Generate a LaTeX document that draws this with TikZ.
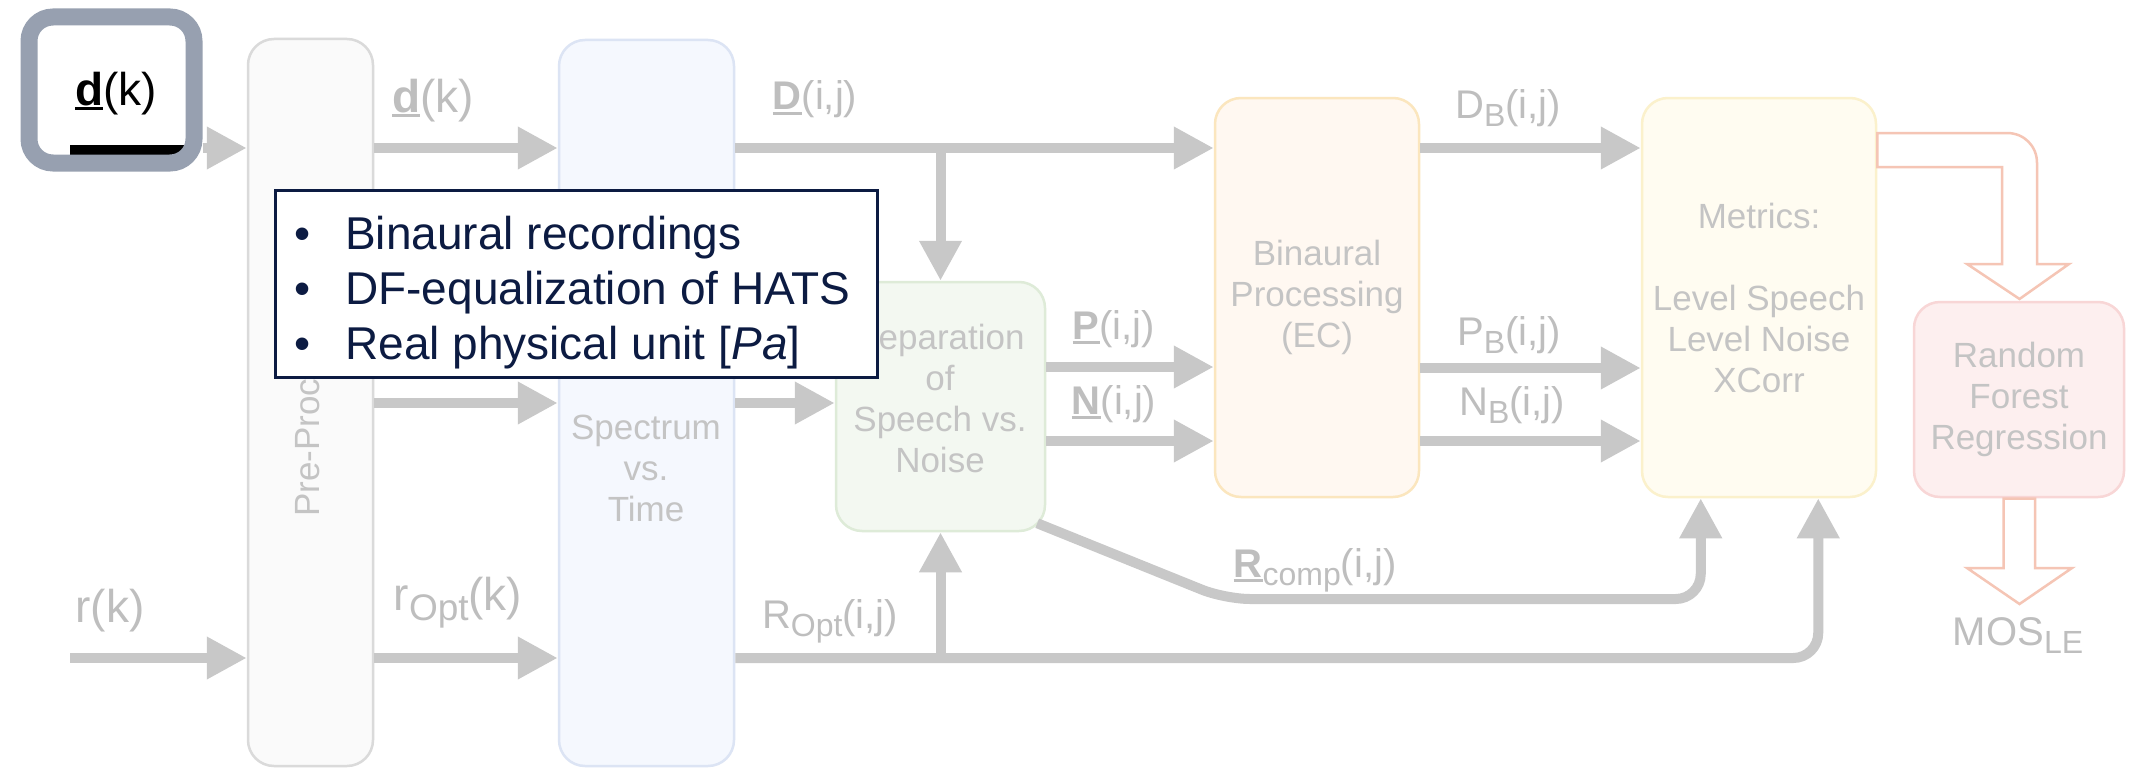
\documentclass[tikz,border=0pt]{standalone}
\usepackage{fontspec}
\setmainfont{Liberation Sans}
\usetikzlibrary{arrows.meta,calc}

\definecolor{flowgrey}{HTML}{C8C8C8}
\definecolor{labgrey}{HTML}{BEBEBE}
\definecolor{boxtxt}{HTML}{C4C4C4}
\definecolor{preFill}{HTML}{FAFAFA}
\definecolor{preLine}{HTML}{DADADA}
\definecolor{specFill}{HTML}{F5F8FE}
\definecolor{specLine}{HTML}{DCE4F4}
\definecolor{sepFill}{HTML}{F3F8F1}
\definecolor{sepLine}{HTML}{DEEBD8}
\definecolor{binFill}{HTML}{FFF8F1}
\definecolor{binLine}{HTML}{FBE6BE}
\definecolor{metFill}{HTML}{FFFCF1}
\definecolor{metLine}{HTML}{FBF1CC}
\definecolor{rfFill}{HTML}{FDEFEF}
\definecolor{rfLine}{HTML}{F8D6D6}
\definecolor{hollowLine}{HTML}{F5C5B5}
\definecolor{hlgrey}{HTML}{97A0B0}
\definecolor{navy}{HTML}{0C1B42}

% bold letter with a thick underline
\newsavebox{\ulbox}
\newcommand{\ulbf}[1]{\sbox{\ulbox}{\textbf{#1}}\rlap{\rule[-5pt]{\wd\ulbox}{3pt}}\usebox{\ulbox}}
% lowered, slightly smaller index text
\newcommand{\lowr}[2][32]{\raisebox{-0.22em}{\fontsize{#1}{#1}\selectfont #2}}

\newcommand{\boxfont}{\fontsize{35}{41}\selectfont}
\newcommand{\labfont}{\fontsize{40}{48}\selectfont}
\newcommand{\biglabfont}{\fontsize{46}{55}\selectfont}
\newcommand{\notefont}{\fontsize{46}{55}\selectfont}

\tikzset{
  x=1pt, y=-1pt,
  box/.style={draw, line width=2.5pt, rounded corners=26pt, inner sep=0pt,
              font=\boxfont, text=boxtxt, align=center},
  boxtext/.style={font=\boxfont, text=boxtxt, align=center, inner sep=0pt},
  flow/.style={draw=flowgrey, line width=10pt, -{Triangle[length=40pt,width=40pt]}},
  lab/.style={text=labgrey, font=\labfont, anchor=base, inner sep=0pt},
  biglab/.style={lab, font=\biglabfont},
  hollow/.style={draw=hollowLine, line width=2.5pt, fill=white, line join=miter},
}

\begin{document}
\begin{tikzpicture}
\fill[white] (0,0) rectangle (2134,768);
\useasboundingbox (0,0) rectangle (2134,768);

% signal rows
\coordinate (rowD) at (0,148);
\coordinate (rowM) at (0,403);
\coordinate (rowR) at (0,658);
\coordinate (rowP) at (0,367);
\coordinate (rowN) at (0,441);
\coordinate (rowPB) at (0,368);

% processing blocks
\node[box, fill=preFill, draw=preLine, minimum width=125pt, minimum height=727pt] (pre) at (310.5,402.5) {};
\node[boxtext, rotate=90] (pret) at (310,397) {Pre-Processing};
\node[box, fill=specFill, draw=specLine, minimum width=175pt, minimum height=726pt] (spec) at (646.5,403) {};
\node[boxtext] (spect) at (646,468) {Spectrum\\vs.\\Time};
\node[box, fill=sepFill, draw=sepLine, minimum width=209pt, minimum height=249pt] (sep) at (940.5,406.5) {};
\node[boxtext] (sept) at (940,398) {Separation\\of\\Speech vs.\\Noise};
\node[box, fill=binFill, draw=binLine, minimum width=204pt, minimum height=399pt] (bin) at (1317,297.5) {Binaural\\Processing\\(EC)};
\node[box, fill=metFill, draw=metLine, minimum width=234pt, minimum height=399pt] (met) at (1759,297.5) {Metrics:\\[41pt]Level Speech\\Level Noise\\XCorr};
\node[box, fill=rfFill, draw=rfLine, minimum width=210pt, minimum height=195pt] (rf) at (2019,399.5) {Random\\Forest\\Regression};

% highlighted input
\fill[black] (70,145) rectangle (186,154.5);
\node[draw=hlgrey, line width=17pt, rounded corners=24pt, minimum width=165pt, minimum height=146pt, inner sep=0pt] (hl) at (111.5,90) {};
\node[font=\biglabfont, anchor=base, inner sep=0pt] (hlt) at (116,105) {\ulbf{d}(k)};

% connectors
\coordinate (rin) at (70,658);
\draw[flow] (hl.east |- rowD) -- (pre.west |- rowD);
\draw[flow] (rin) -- (pre.west |- rin);
\draw[flow] (pre.east |- rowD) -- (spec.west |- rowD);
\draw[flow] (pre.east |- rowM) -- (spec.west |- rowM);
\draw[flow] (pre.east |- rowR) -- (spec.west |- rowR);
\draw[flow] (spec.east |- rowD) -- (bin.west |- rowD);
\draw[flow] (sep.north |- rowD) -- (sep.north);
\draw[flow] (spec.east |- rowM) -- (sep.west |- rowM);
\draw[flow] (sep.east |- rowP) -- (bin.west |- rowP);
\draw[flow] (sep.east |- rowN) -- (bin.west |- rowN);
\coordinate (min1) at ($(met.south west)+(60,0)$);
\coordinate (min2) at ($(met.south east)+(-59,0)$);
\draw[flow, rounded corners=25pt] (spec.east |- rowR) -- (min2 |- rowR) -- (min2);
\draw[flow] (sep.south |- rowR) -- (sep.south);
\coordinate (rc0) at ($(sep.south east)+(-9,-9)$);
\coordinate (rcb) at (1225,599);
\draw[flow, rounded corners=25pt] (rc0) -- (rcb) -- (min1 |- rcb) -- (min1);
\draw[flow] (bin.east |- rowD) -- (met.west |- rowD);
\draw[flow] (bin.east |- rowPB) -- (met.west |- rowPB);
\draw[flow] (bin.east |- rowN) -- (met.west |- rowN);

% hollow block arrows
\draw[hollow] (met.east |- 0,133) -- (2007,133) .. controls (2024,133) and (2037,146) .. (2037,163)
  -- (2037,264) -- (2069,264) -- (2019.5,299) -- (1967,264) -- (2002,264) -- (2002,167)
  -- (met.east |- 0,167) -- cycle;
\draw[hollow] (2003.5,498.5) -- (2003.5,568) -- (1967,568) -- (2019.5,604) -- (2072,568)
  -- (2035,568) -- (2035,498.5) -- cycle;

% signal labels
\node[biglab] (ld) at (433,112) {\ulbf{d}(k)};
\node[biglab] (lr) at (110,622) {r(k)};
\node[biglab] (lro) at (458,610) {r\lowr[37]{Opt}(k)};
\node[lab] (lD) at (815,110) {\ulbf{D}(i,j)};
\node[lab] (lRo) at (830,628) {R\lowr{Opt}(i,j)};
\node[lab] (lP) at (1114,339) {\ulbf{P}(i,j)};
\node[lab] (lN) at (1114,414) {\ulbf{N}(i,j)};
\node[lab] (lRc) at (1315,577) {\ulbf{R}\lowr{comp}(i,j)};
\node[lab] (lDB) at (1508,118) {D\lowr{B}(i,j)};
\node[lab] (lPB) at (1509,345) {P\lowr{B}(i,j)};
\node[lab] (lNB) at (1512,415) {N\lowr{B}(i,j)};
\node[lab] (lmos) at (2018,645) {MOS\lowr{LE}};

% note box
\node[draw=navy, line width=3pt, fill=white, minimum width=602pt, minimum height=187pt, inner sep=0pt] (note) at (576,283.5) {};
\node[text=navy, font=\notefont, anchor=west, inner sep=0pt] (notet) at (294,293.5)
  {\begin{tabular}{@{}l@{\hspace{35pt}}l@{}}
   \textbullet & Binaural recordings\\
   \textbullet & DF-equalization of HATS\\
   \textbullet & Real physical unit [\textit{Pa}]
   \end{tabular}};
\end{tikzpicture}
\end{document}
